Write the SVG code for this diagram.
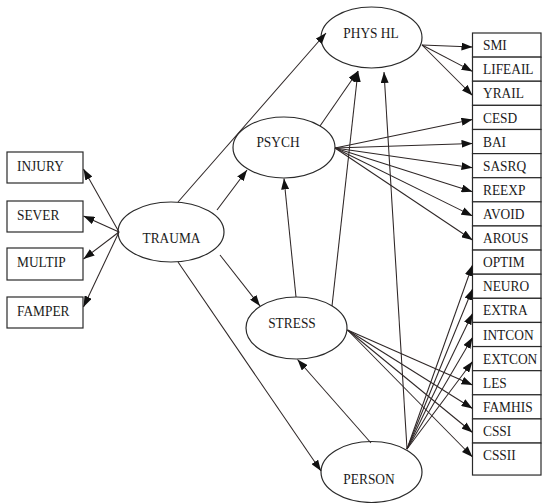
<svg xmlns="http://www.w3.org/2000/svg" width="543" height="503" viewBox="0 0 543 503">
<style>
  .box { fill: #fff; stroke: #2a2a2a; stroke-width: 1.2; }
  .ell { fill: #fff; stroke: #2a2a2a; stroke-width: 1.2; }
  .t, .tc { font-family: "Liberation Serif", "Times New Roman", serif; font-size: 13.4px; fill: #1a1a1a; transform-box: fill-box; transform-origin: 50% 100%; transform: scaleY(1.13); }
  .tc { text-anchor: middle; }
  .c { stroke: #2e2626; stroke-width: 1.05; fill: none; marker-end: url(#ah); }
</style>
<defs>
  <marker id="ah" markerUnits="userSpaceOnUse" markerWidth="11" markerHeight="8" refX="11" refY="4" orient="auto">
    <path d="M0,0 L11,4 L0,8 z" fill="#111"/>
  </marker>
</defs>
<rect width="543" height="503" fill="#fff"/>

<!-- left indicator boxes -->
<g id="INJURY"><rect class="box" x="7" y="152" width="76" height="31"/><text class="t" x="17" y="171">INJURY</text></g>
<g id="SEVER"><rect class="box" x="7" y="201" width="76" height="31"/><text class="t" x="17" y="220">SEVER</text></g>
<g id="MULTIP"><rect class="box" x="7" y="248" width="76" height="32"/><text class="t" x="17" y="267">MULTIP</text></g>
<g id="FAMPER"><rect class="box" x="7" y="297" width="76" height="31"/><text class="t" x="17" y="316">FAMPER</text></g>

<!-- latent ellipses -->
<g id="TRAUMA"><ellipse class="ell" cx="171" cy="232" rx="53" ry="30"/><text class="tc" x="171.5" y="243">TRAUMA</text></g>
<g id="PHYSHL"><ellipse class="ell" cx="371.5" cy="37.5" rx="50.5" ry="30.5"/><text class="tc" x="371" y="38.5">PHYS HL</text></g>
<g id="PSYCH"><ellipse class="ell" cx="284" cy="147.5" rx="51" ry="30.5"/><text class="tc" x="278" y="147.5">PSYCH</text></g>
<g id="STRESS"><ellipse class="ell" cx="296.5" cy="328" rx="50.5" ry="31"/><text class="tc" x="292" y="328">STRESS</text></g>
<g id="PERSON"><ellipse class="ell" cx="371.5" cy="472" rx="50.5" ry="30.5"/><text class="tc" x="369" y="484">PERSON</text></g>

<!-- right indicator boxes -->
<g id="SMI"><rect class="box" x="472.5" y="33" width="68.5" height="24.12"/><text class="t" x="483" y="50.5">SMI</text></g>
<g id="LIFEAIL"><rect class="box" x="472.5" y="57.12" width="68.5" height="24.12"/><text class="t" x="483" y="74.6">LIFEAIL</text></g>
<g id="YRAIL"><rect class="box" x="472.5" y="81.24" width="68.5" height="24.12"/><text class="t" x="483" y="98.7">YRAIL</text></g>
<g id="CESD"><rect class="box" x="472.5" y="105.36" width="68.5" height="24.12"/><text class="t" x="483" y="122.9">CESD</text></g>
<g id="BAI"><rect class="box" x="472.5" y="129.48" width="68.5" height="24.12"/><text class="t" x="483" y="147">BAI</text></g>
<g id="SASRQ"><rect class="box" x="472.5" y="153.6" width="68.5" height="24.12"/><text class="t" x="483" y="171.1">SASRQ</text></g>
<g id="REEXP"><rect class="box" x="472.5" y="177.72" width="68.5" height="24.12"/><text class="t" x="483" y="195.2">REEXP</text></g>
<g id="AVOID"><rect class="box" x="472.5" y="201.84" width="68.5" height="24.12"/><text class="t" x="483" y="219.3">AVOID</text></g>
<g id="AROUS"><rect class="box" x="472.5" y="225.96" width="68.5" height="24.12"/><text class="t" x="483" y="243.5">AROUS</text></g>
<g id="OPTIM"><rect class="box" x="472.5" y="250.08" width="68.5" height="24.12"/><text class="t" x="483" y="267.6">OPTIM</text></g>
<g id="NEURO"><rect class="box" x="472.5" y="274.2" width="68.5" height="24.12"/><text class="t" x="483" y="291.7">NEURO</text></g>
<g id="EXTRA"><rect class="box" x="472.5" y="298.32" width="68.5" height="24.12"/><text class="t" x="483" y="315.8">EXTRA</text></g>
<g id="INTCON"><rect class="box" x="472.5" y="322.44" width="68.5" height="24.12"/><text class="t" x="483" y="339.9">INTCON</text></g>
<g id="EXTCON"><rect class="box" x="472.5" y="346.56" width="68.5" height="24.12"/><text class="t" x="483" y="364.1">EXTCON</text></g>
<g id="LES"><rect class="box" x="472.5" y="370.68" width="68.5" height="24.12"/><text class="t" x="483" y="388.2">LES</text></g>
<g id="FAMHIS"><rect class="box" x="472.5" y="394.8" width="68.5" height="24.12"/><text class="t" x="483" y="412.3">FAMHIS</text></g>
<g id="CSSI"><rect class="box" x="472.5" y="418.92" width="68.5" height="24.12"/><text class="t" x="483" y="436.4">CSSI</text></g>
<g id="CSSII"><rect class="box" x="472.5" y="443.04" width="68.5" height="32"/><text class="t" x="483" y="460.5">CSSII</text></g>

<!-- connectors -->
<g id="connectors">
  <line class="c" x1="119" y1="232" x2="83.5" y2="169"/>
  <line class="c" x1="119" y1="232" x2="83.5" y2="216"/>
  <line class="c" x1="119" y1="232" x2="83.5" y2="259"/>
  <line class="c" x1="119" y1="232" x2="83.5" y2="307"/>

  <line class="c" x1="178" y1="202" x2="326" y2="33"/>
  <line class="c" x1="217" y1="210" x2="247" y2="170"/>
  <line class="c" x1="220" y1="255" x2="260" y2="306"/>
  <line class="c" x1="178" y1="262" x2="321" y2="471"/>

  <line class="c" x1="296" y1="297" x2="284" y2="178.5"/>
  <line class="c" x1="320" y1="126" x2="358" y2="71"/>
  <line class="c" x1="332" y1="306" x2="358" y2="71"/>
  <line class="c" x1="407" y1="449" x2="384" y2="72"/>
  <line class="c" x1="371" y1="443" x2="297.5" y2="359.5"/>

  <line class="c" x1="422" y1="45" x2="472.5" y2="47"/>
  <line class="c" x1="422" y1="45" x2="472.5" y2="71.4"/>
  <line class="c" x1="422" y1="45" x2="472.5" y2="95.5"/>

  <line class="c" x1="335" y1="148" x2="472.5" y2="119.5"/>
  <line class="c" x1="335" y1="148" x2="472.5" y2="143.5"/>
  <line class="c" x1="335" y1="148" x2="472.5" y2="167.7"/>
  <line class="c" x1="335" y1="148" x2="472.5" y2="191.8"/>
  <line class="c" x1="335" y1="148" x2="472.5" y2="215.9"/>
  <line class="c" x1="335" y1="148" x2="472.5" y2="240"/>

  <line class="c" x1="407" y1="449" x2="472.5" y2="265"/>
  <line class="c" x1="407" y1="449" x2="472.5" y2="289"/>
  <line class="c" x1="407" y1="449" x2="472.5" y2="313.5"/>
  <line class="c" x1="407" y1="449" x2="472.5" y2="337.5"/>
  <line class="c" x1="407" y1="449" x2="472.5" y2="361.5"/>

  <line class="c" x1="347.5" y1="330" x2="472.5" y2="385"/>
  <line class="c" x1="347.5" y1="330" x2="472.5" y2="408.5"/>
  <line class="c" x1="347.5" y1="330" x2="472.5" y2="432.5"/>
  <line class="c" x1="347.5" y1="330" x2="472.5" y2="457"/>
</g>
</svg>
